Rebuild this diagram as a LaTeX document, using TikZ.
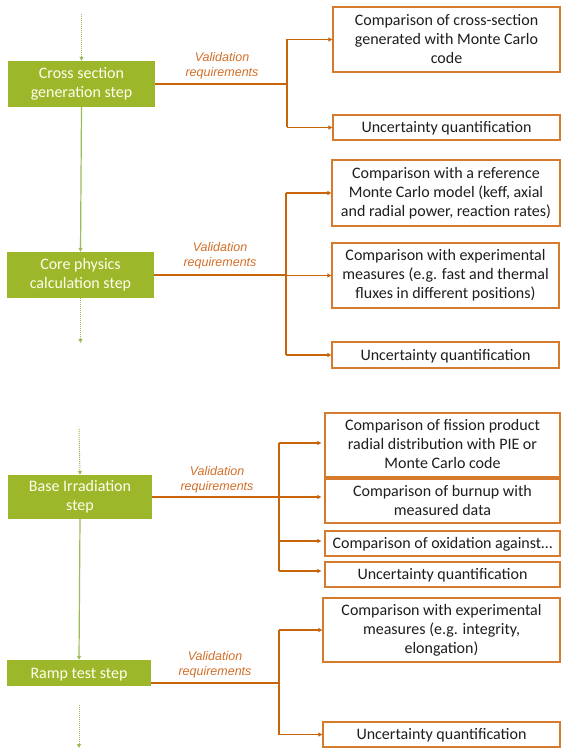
\documentclass[tikz,border=0pt]{standalone}
\usepackage{fontspec}
\setmainfont{Carlito}
\newfontfamily\labfont{Liberation Sans}
\usetikzlibrary{arrows.meta,calc}
\definecolor{stepgreen}{RGB}{157,183,42}
\definecolor{linegreen}{RGB}{155,187,89}
\definecolor{orline}{RGB}{200,100,10}
\definecolor{orbox}{RGB}{214,122,45}
\definecolor{ortext}{RGB}{210,110,40}
\definecolor{txt}{RGB}{30,30,30}
\newcommand{\topstrut}{\rule{0pt}{13pt}}
\newcommand{\botstrut}{\rule[-2pt]{0pt}{2pt}}
\begin{document}
\begin{tikzpicture}[x=1pt,y=-1pt,
  stepbox/.style 2 args={fill=stepgreen, text=white!94!yellow, font=\fontsize{16}{19}\selectfont, align=center, inner sep=0pt, minimum width=#1pt, minimum height=#2pt, execute at begin node=\topstrut, execute at end node=\botstrut},
  reqbox/.style 2 args={draw=orbox, line width=1.3pt, fill=white, text=txt, font=\fontsize{16}{19}\selectfont, align=center, inner sep=0pt, minimum width=#1pt, minimum height=#2pt, execute at begin node=\topstrut, execute at end node=\botstrut},
  vlabel/.style={text=ortext, font=\labfont\itshape\fontsize{12.5}{15}\selectfont, align=center, inner sep=0pt},
  gsolid/.style={draw=linegreen, line width=1.2pt, -{Triangle[length=4pt,width=4pt]}},
  gdot/.style={draw=linegreen, line width=1pt, dash pattern=on 1pt off 1pt, -{Triangle[length=4pt,width=4pt]}},
  orthick/.style={draw=orline, line width=2pt},
  orarrow/.style={draw=orline, line width=1.5pt, -{Triangle[length=4pt,width=4pt]}}
]
\useasboundingbox (0,0) rectangle (561,749);

% ---------- Block 1 ----------
\node[stepbox={147}{46}] (G1) at (81.5,84) {Cross section\\generation step};
\node[stepbox={147}{46}] (G2) at (80.5,275) {Core physics\\calculation step};
\coordinate (t1) at (81.5,14);
\coordinate (e2) at (80.5,343);
\draw[gdot] (t1) -- (G1.north);
\draw[gsolid] (G1.south) -- (G2.north);
\draw[gdot] (G2.south) -- (e2);

\node[reqbox={227}{65}] (B1a) at (446.5,39.5) {Comparison of cross-section\\generated with Monte Carlo\\code};
\node[reqbox={227}{25}] (B1b) at (446.5,127.5) {Uncertainty quantification};
\node[vlabel] (L1) at (222,66) {Validation\\requirements};
\coordinate (s1) at (287,84);
\draw[orthick] (G1.east) -- (s1);
\draw[orthick] (s1 |- B1a.west) -- (s1 |- B1b.west);
\draw[orarrow] (s1 |- B1a.west) -- (B1a.west);
\draw[orarrow] (s1 |- B1b.west) -- (B1b.west);

% ---------- Block 2 ----------
\node[reqbox={228}{66}] (B2a) at (446,193) {Comparison with a reference\\Monte Carlo model (keff, axial\\and radial power, reaction rates)};
\node[reqbox={227}{65}] (B2b) at (445.5,275.5) {Comparison with experimental\\measures (e.g. fast and thermal\\fluxes in different positions)};
\node[reqbox={227}{26}] (B2c) at (445.5,355) {Uncertainty quantification};
\node[vlabel] (L2) at (220,256) {Validation\\requirements};
\coordinate (s2) at (286,275);
\draw[orthick] (G2.east) -- (s2);
\draw[orthick] (s2 |- B2a.west) -- (s2 |- B2c.west);
\draw[orarrow] (s2 |- B2a.west) -- (B2a.west);
\draw[orarrow] (s2 |- B2b.west) -- (B2b.west);
\draw[orarrow] (s2 |- B2c.west) -- (B2c.west);

% ---------- Block 3 ----------
\node[stepbox={144}{44}] (G3) at (80,497) {Base Irradiation\\step};
\node[stepbox={144}{26}] (G4) at (79,673) {Ramp test step};
\coordinate (t3) at (79,429);
\coordinate (t4a) at (79,705);
\coordinate (t4b) at (79,748);
\draw[gdot] (t3) -- (G3.north);
\draw[gsolid] (G3.south) -- (G4.north);
\draw[gdot] (t4a) -- (t4b);

\node[reqbox={235}{64}] (B3a) at (442.5,445) {Comparison of fission product\\radial distribution with PIE or\\Monte Carlo code};
\node[reqbox={235}{44}] (B3b) at (442.5,501) {Comparison of burnup with\\measured data};
\node[reqbox={235}{25}] (B3c) at (442.5,543.5) {Comparison of oxidation against\dots};
\node[reqbox={235}{25}] (B3d) at (442.5,574.5) {Uncertainty quantification};
\node[vlabel] (L3) at (217,480) {Validation\\requirements};
\coordinate (s3) at (279,497);
\coordinate (a3a) at ([yshift=2pt]B3a.west);
\coordinate (a3b) at ([yshift=4pt]B3b.west);
\coordinate (a3c) at ([yshift=2.5pt]B3c.west);
\coordinate (a3d) at ([yshift=3.5pt]B3d.west);
\draw[orthick] (G3.east) -- (s3);
\draw[orthick] (s3 |- a3a) -- (s3 |- a3d);
\draw[orarrow] (s3 |- a3a) -- ([xshift=-3pt]a3a);
\draw[orarrow] (s3 |- a3b) -- ([xshift=-3pt]a3b);
\draw[orarrow] (s3 |- a3c) -- ([xshift=-3pt]a3c);
\draw[orarrow] (s3 |- a3d) -- ([xshift=-3pt]a3d);

% ---------- Block 4 ----------
\node[reqbox={237}{64}] (B4a) at (441.5,630) {Comparison with experimental\\measures (e.g. integrity,\\elongation)};
\node[reqbox={237}{25}] (B4b) at (441.5,734.5) {Uncertainty quantification};
\node[vlabel] (L4) at (215,665) {Validation\\requirements};
\coordinate (o4) at ([yshift=-10pt]G4.east);
\coordinate (s4) at (279,683);
\draw[orthick] (o4) -- (s4);
\draw[orthick] (s4 |- B4a.west) -- (s4 |- B4b.west);
\draw[orarrow] (s4 |- B4a.west) -- (B4a.west);
\draw[orarrow] (s4 |- B4b.west) -- (B4b.west);
\end{tikzpicture}
\end{document}
